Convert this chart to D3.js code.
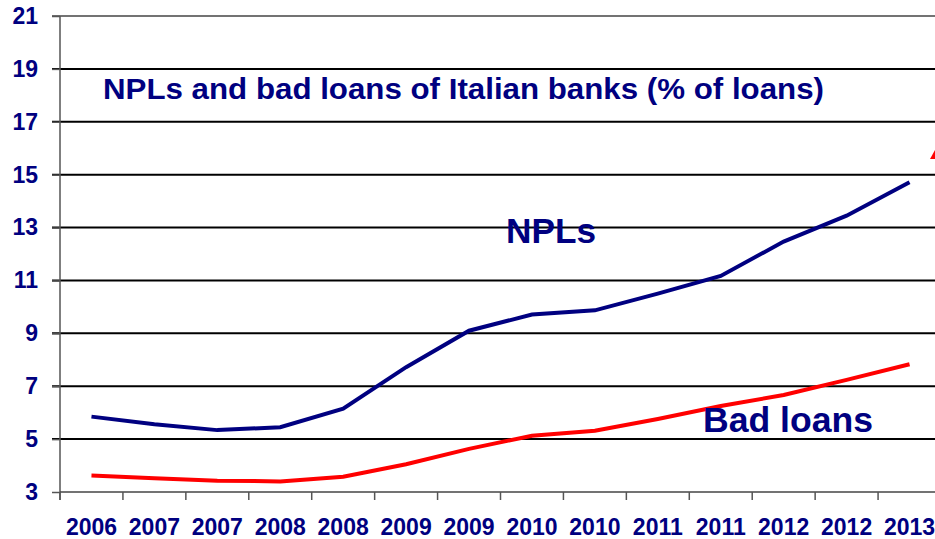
<!DOCTYPE html>
<html>
<head>
<meta charset="utf-8">
<script src="https://cdn.jsdelivr.net/npm/d3@7"></script>
<style>
    html, body { margin: 0; padding: 0; background: #fff; overflow: hidden; }
    svg { display: block; font-family: "Liberation Sans", Arial, sans-serif; font-weight: bold; }
</style>
</head>
<body>
<div id="chart"></div>
<script>
// Chart data
const periods = ['2006', '2007', '2007', '2008', '2008', '2009', '2009', '2010', '2010', '2011', '2011', '2012', '2012', '2013'];
const npls = [5.85, 5.56, 5.34, 5.45, 6.15, 7.72, 9.1, 9.71, 9.87, 10.5, 11.17, 12.47, 13.45, 14.71];
const badLoans = [3.62, 3.52, 3.43, 3.40, 3.58, 4.05, 4.63, 5.13, 5.32, 5.76, 6.25, 6.67, 7.24, 7.83];
const yTicks = [3, 5, 7, 9, 11, 13, 15, 17, 19, 21];

const width = 935;
const height = 539;
const navy = '#000080';

const svg = d3.select('#chart')
    .append('svg')
    .attr('width', width)
    .attr('height', height);

// Scales
const x = d3.scaleBand()
    .domain(d3.range(periods.length))
    .range([60, 941])
    .paddingInner(0)
    .paddingOuter(0);

const y = d3.scaleLinear()
    .domain([3, 21])
    .range([492, 16]);

// Gridlines
svg.append('g')
    .selectAll('line')
    .data(yTicks.filter(d => d > 3))
    .enter()
    .append('line')
    .attr('x1', 52)
    .attr('x2', width)
    .attr('y1', d => y(d))
    .attr('y2', d => y(d))
    .attr('stroke', d => d === 21 ? '#444' : '#000')
    .attr('stroke-width', d => d === 21 ? 1.5 : 2);

// Y axis
const yAxis = svg.append('g')
    .attr('transform', 'translate(60,0)')
    .call(d3.axisLeft(y).tickValues(yTicks).tickSize(8).tickPadding(14).tickFormat(d3.format('d')));
yAxis.select('.domain').attr('stroke', '#555').attr('stroke-width', 1.5)
    .attr('d', `M0,${y(21)}V${y(3) + 8}`);
yAxis.selectAll('.tick line').attr('stroke', '#555').attr('stroke-width', 1.5);
yAxis.selectAll('text')
    .attr('fill', navy)
    .attr('font-size', 23)
    .attr('font-weight', 'bold')
    .attr('font-family', '"Liberation Sans", Arial, sans-serif')
    .attr('x', -22);

// X axis
const xAxis = svg.append('g')
    .attr('transform', `translate(0,${y(3)})`);
xAxis.append('line')
    .attr('x1', 60)
    .attr('x2', width)
    .attr('stroke', '#444')
    .attr('stroke-width', 1.5);
xAxis.selectAll('.xtick')
    .data(d3.range(periods.length + 1))
    .enter()
    .append('line')
    .attr('class', 'xtick')
    .attr('x1', i => x.range()[0] + i * x.bandwidth())
    .attr('x2', i => x.range()[0] + i * x.bandwidth())
    .attr('y1', 0)
    .attr('y2', 8)
    .attr('stroke', '#555')
    .attr('stroke-width', 1.5);
xAxis.selectAll('.xlabel')
    .data(periods)
    .enter()
    .append('text')
    .attr('class', 'xlabel')
    .attr('x', (d, i) => x(i) + x.bandwidth() / 2)
    .attr('y', 43)
    .attr('text-anchor', 'middle')
    .attr('fill', navy)
    .attr('font-size', 23)
    .text(d => d);

// Lines
const line = d3.line()
    .x((d, i) => x(i) + x.bandwidth() / 2)
    .y(d => y(d));

svg.append('path')
    .datum(badLoans)
    .attr('fill', 'none')
    .attr('stroke', '#ff0000')
    .attr('stroke-width', 4)
    .attr('d', line);

svg.append('path')
    .datum(npls)
    .attr('fill', 'none')
    .attr('stroke', navy)
    .attr('stroke-width', 4)
    .attr('d', line);

// Clipped red marker at the right edge
svg.append('path')
    .attr('d', 'M930,159L935,150L935,159Z')
    .attr('fill', '#ff0000');

// Title and series labels
svg.append('text')
    .attr('x', 103)
    .attr('y', 99)
    .attr('fill', navy)
    .attr('font-size', 30)
    .attr('textLength', 721)
    .attr('lengthAdjust', 'spacingAndGlyphs')
    .text('NPLs and bad loans of Italian banks (% of loans)');

svg.append('text')
    .attr('x', 506)
    .attr('y', 243)
    .attr('fill', navy)
    .attr('font-size', 35)
    .attr('textLength', 90)
    .attr('lengthAdjust', 'spacingAndGlyphs')
    .text('NPLs');

svg.append('text')
    .attr('x', 703)
    .attr('y', 432)
    .attr('fill', navy)
    .attr('font-size', 35)
    .attr('textLength', 170)
    .attr('lengthAdjust', 'spacingAndGlyphs')
    .text('Bad loans');
</script>
</body>
</html>
